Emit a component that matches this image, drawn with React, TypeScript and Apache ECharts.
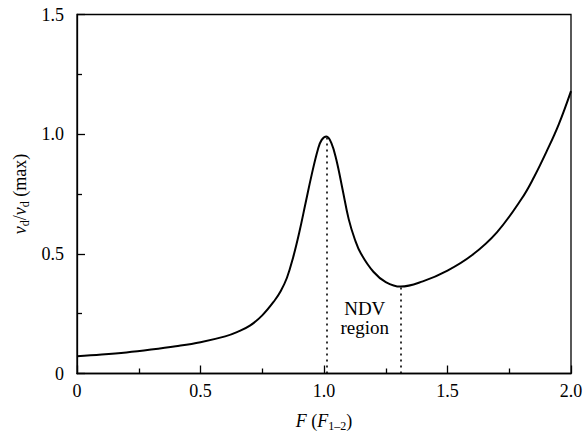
import React, { useEffect, useRef } from "react";
import * as echarts from "echarts";

const xValues = [0, 0.1, 0.2, 0.3, 0.4, 0.5, 0.6, 0.65, 0.7, 0.75, 0.8, 0.825, 0.85, 0.875, 0.9, 0.925, 0.95, 0.975, 0.99, 1.01, 1.03, 1.05, 1.075, 1.1, 1.125, 1.15, 1.2, 1.25, 1.31, 1.4, 1.5, 1.6, 1.7, 1.8, 1.85, 1.9, 1.95, 2.0];
const yValues = [0.072, 0.079, 0.088, 0.1, 0.114, 0.131, 0.155, 0.174, 0.2, 0.243, 0.305, 0.345, 0.4, 0.485, 0.59, 0.71, 0.83, 0.935, 0.975, 0.99, 0.963, 0.893, 0.77, 0.645, 0.56, 0.5, 0.425, 0.382, 0.363, 0.385, 0.43, 0.495, 0.59, 0.73, 0.82, 0.925, 1.04, 1.18];
const xTickLabels = ["0", "0.5", "1.0", "1.5", "2.0"];
const yTickLabels = ["0", "0.5", "1.0", "1.5"];
const peakPoint = [1.01, 0.99];
const minPoint = [1.31, 0.363];
const regionLabelPoint = [1.165, 0.23];
const regionText = "NDV\nregion";

const FONT = '"Times New Roman", "Liberation Serif", serif';

export default function App() {
  const ref = useRef<HTMLDivElement>(null);
  useEffect(() => {
    if (!ref.current) return;
    const chart = echarts.init(ref.current, undefined, { renderer: "svg" });
    const data = xValues.map((x, i) => [x, yValues[i]]);
    chart.setOption({
      animation: false,
      backgroundColor: "#fff",
      textStyle: { fontFamily: FONT },
      grid: {
        left: 77,
        right: 16,
        top: 14.5,
        bottom: 67.5,
        show: true,
        borderColor: "#000",
        borderWidth: 1.3,
      },
      xAxis: {
        type: "value",
        min: 0,
        max: 2,
        interval: 0.5,
        axisLine: { show: true, lineStyle: { color: "#000", width: 1.3 } },
        axisTick: { show: true, inside: true, length: 8, lineStyle: { color: "#000", width: 1.3 } },
        minorTick: { show: true, splitNumber: 2, length: 5, lineStyle: { color: "#000", width: 1.3 } },
        splitLine: { show: false },
        axisLabel: {
          color: "#000",
          fontFamily: FONT,
          fontSize: 18,
          margin: 8,
          formatter: (_v: number, i: number) => xTickLabels[i],
        },
        name: "{i|F} {n|(}{i|F}{sub|1–2}{n|)}",
        nameLocation: "middle",
        nameGap: 37,
        nameTextStyle: {
          color: "#000",
          fontFamily: FONT,
          fontSize: 18,
          rich: {
            i: { fontFamily: FONT, fontSize: 18, fontStyle: "italic", color: "#000" },
            n: { fontFamily: FONT, fontSize: 18, color: "#000" },
            sub: { fontFamily: FONT, fontSize: 12, color: "#000", padding: [9, 0, 0, 0] },
          },
        },
      },
      yAxis: {
        type: "value",
        min: 0,
        max: 1.5,
        interval: 0.5,
        axisLine: { show: true, lineStyle: { color: "#000", width: 1.3 } },
        axisTick: { show: true, inside: true, length: 8, lineStyle: { color: "#000", width: 1.3 } },
        minorTick: { show: true, splitNumber: 2, length: 5, lineStyle: { color: "#000", width: 1.3 } },
        splitLine: { show: false },
        axisLabel: {
          color: "#000",
          fontFamily: FONT,
          fontSize: 18,
          margin: 13,
          formatter: (_v: number, i: number) => yTickLabels[i],
        },
        name: "{i|v}{sub|d}{n|/}{i|v}{sub|d}{n| (max)}",
        nameLocation: "middle",
        nameRotate: 90,
        nameGap: 42,
        nameTextStyle: {
          color: "#000",
          fontFamily: FONT,
          fontSize: 18,
          rich: {
            i: { fontFamily: FONT, fontSize: 18, fontStyle: "italic", color: "#000" },
            n: { fontFamily: FONT, fontSize: 18, color: "#000" },
            sub: { fontFamily: FONT, fontSize: 12, color: "#000", padding: [9, 0, 0, 0] },
          },
        },
      },
      series: [
        {
          type: "line",
          data,
          smooth: 0.4,
          symbol: "none",
          lineStyle: { color: "#000", width: 2 },
          markLine: {
            silent: true,
            symbol: "none",
            label: { show: false },
            lineStyle: { color: "#000", type: [2, 4], width: 1.6 },
            data: [
              [{ coord: [peakPoint[0], 0] }, { coord: [peakPoint[0], peakPoint[1]] }],
              [{ coord: [minPoint[0], 0] }, { coord: [minPoint[0], minPoint[1]] }],
            ],
          },
          markPoint: {
            silent: true,
            symbol: "circle",
            symbolSize: 0,
            data: [
              {
                coord: regionLabelPoint,
                label: {
                  show: true,
                  position: "inside",
                  formatter: regionText,
                  color: "#000",
                  fontFamily: FONT,
                  fontSize: 19,
                  lineHeight: 19,
                  align: "center",
                },
              },
            ],
          },
        },
      ],
    });
    return () => chart.dispose();
  }, []);
  return <div ref={ref} style={{ width: 587, height: 441, position: "absolute", left: 0, top: 0 }} />;
}
